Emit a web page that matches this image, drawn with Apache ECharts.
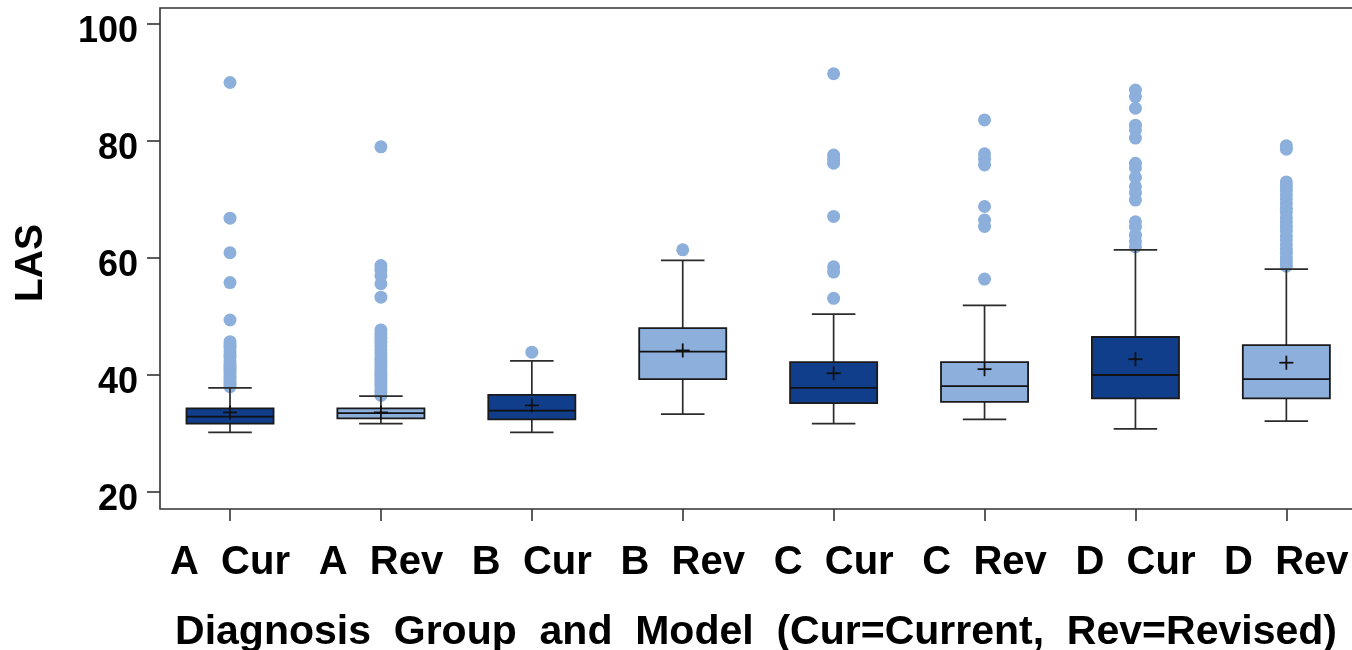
<!DOCTYPE html>
<html>
<head>
<meta charset="utf-8">
<script src="https://cdn.jsdelivr.net/npm/echarts@6/dist/echarts.min.js"></script>
<style>html,body{margin:0;padding:0;background:#fff;}#c{width:1352px;height:650px;}</style>
</head>
<body>
<div id="c"></div>
<script>
// ---- data ----
const categories = ['A  Cur', 'A  Rev', 'B  Cur', 'B  Rev', 'C  Cur', 'C  Rev', 'D  Cur', 'D  Rev'];
const categoryPositions = [0, 1, 2, 3, 4, 5, 6, 7];
const yTicks = [20, 40, 60, 80, 100];
// [lower whisker, Q1, median, Q3, upper whisker, mean]
const boxStats = [
  [30.2, 31.7, 32.9, 34.3, 37.8, 33.6],
  [31.7, 32.6, 33.5, 34.3, 36.4, 33.6],
  [30.2, 32.4, 33.9, 36.6, 42.4, 34.8],
  [33.3, 39.3, 44.0, 48.0, 59.6, 44.2],
  [31.7, 35.2, 37.8, 42.2, 50.4, 40.3],
  [32.4, 35.4, 38.1, 42.2, 51.9, 41.0],
  [30.8, 36.0, 40.0, 46.5, 61.4, 42.7],
  [32.1, 36.0, 39.3, 45.1, 58.1, 42.1]
];
const outliersACur = [90.0, 66.8, 60.9, 55.8, 49.4, 45.7, 45.1, 44.6, 44.0, 43.4, 43.0, 42.4, 41.9, 41.5, 41.0, 40.6, 40.1, 39.7, 39.3, 38.8, 38.4, 38.0];
const outliersARev = [79.0, 58.7, 58.0, 57.0, 55.6, 53.3, 47.7, 47.0, 46.3, 45.6, 45.0, 44.3, 43.8, 43.1, 42.6, 42.0, 41.4, 40.9, 40.3, 39.8, 39.2, 38.7, 38.1, 37.5, 37.0, 36.5];
const outliersBCur = [43.9];
const outliersBRev = [61.4];
const outliersCCur = [91.5, 77.6, 76.9, 76.2, 67.1, 58.5, 57.6, 53.1];
const outliersCRev = [83.6, 77.8, 76.9, 75.9, 68.8, 66.5, 65.4, 56.4];
const outliersDCur = [88.7, 87.6, 85.6, 82.7, 81.9, 80.5, 76.2, 75.4, 73.8, 72.2, 71.1, 69.9, 66.2, 65.3, 63.9, 62.8, 61.9];
const outliersDRev = [79.2, 78.6, 73.0, 72.3, 71.6, 70.8, 70.1, 69.3, 68.5, 67.8, 66.9, 66.2, 65.4, 64.6, 63.8, 63.1, 62.3, 61.5, 60.8, 60.0, 59.3, 58.6];
const outlierGroups = [outliersACur, outliersARev, outliersBCur, outliersBRev, outliersCCur, outliersCRev, outliersDCur, outliersDRev];

// ---- build series data ----
const boxData = boxStats.map((s, i) => [categoryPositions[i]].concat(s));
const outlierData = [];
outlierGroups.forEach((g, i) => g.forEach(v => outlierData.push([categoryPositions[i], v])));

const darkBlue = '#113e8b';
const lightBlue = '#8cafdc';
const FONT = '"Liberation Sans", Arial, sans-serif';

function renderBox(params, api) {
  const i = api.value(0);
  const lo = api.coord([i, api.value(1)]);
  const q1 = api.coord([i, api.value(2)]);
  const med = api.coord([i, api.value(3)]);
  const q3 = api.coord([i, api.value(4)]);
  const hi = api.coord([i, api.value(5)]);
  const mean = api.coord([i, api.value(6)]);
  const unit = api.size([1, 0])[0];
  const bw = unit * 0.577;
  const cap = bw / 2;
  const x = lo[0];
  const fill = (params.dataIndex % 2 === 0) ? darkBlue : lightBlue;
  const lineStyle = { stroke: '#2b2b2b', lineWidth: 1.7 };
  const c = 7;
  return {
    type: 'group',
    children: [
      { type: 'line', shape: { x1: x, y1: q3[1], x2: x, y2: hi[1] }, style: lineStyle },
      { type: 'line', shape: { x1: x, y1: q1[1], x2: x, y2: lo[1] }, style: lineStyle },
      { type: 'line', shape: { x1: x - cap / 2, y1: hi[1], x2: x + cap / 2, y2: hi[1] }, style: lineStyle },
      { type: 'line', shape: { x1: x - cap / 2, y1: lo[1], x2: x + cap / 2, y2: lo[1] }, style: lineStyle },
      { type: 'rect', shape: { x: x - bw / 2, y: q3[1], width: bw, height: q1[1] - q3[1] },
        style: { fill: fill, stroke: '#1a1a1a', lineWidth: 1.8 } },
      { type: 'line', shape: { x1: x - bw / 2, y1: med[1], x2: x + bw / 2, y2: med[1] }, style: { stroke: '#111', lineWidth: 1.8 } },
      { type: 'line', shape: { x1: x - c, y1: mean[1], x2: x + c, y2: mean[1] }, style: { stroke: '#111', lineWidth: 1.8 } },
      { type: 'line', shape: { x1: x, y1: mean[1] - c, x2: x, y2: mean[1] + c }, style: { stroke: '#111', lineWidth: 1.8 } }
    ]
  };
}

const chart = echarts.init(document.getElementById('c'), null, { renderer: 'canvas' });
chart.setOption({
  animation: false,
  backgroundColor: '#fff',
  grid: { left: 160, right: 0, top: 24, bottom: 158, containLabel: false, outerBoundsMode: 'none' },
  graphic: [{
    type: 'rect', z: 100, silent: true,
    shape: { x: 160, y: 8, width: 1300, height: 501 },
    style: { fill: 'none', stroke: '#333', lineWidth: 1.6 }
  }],
  xAxis: {
    type: 'value',
    min: -0.4639,
    max: 7.435,
    offset: 17,
    axisLine: { show: false, onZero: false },
    axisTick: { show: true, customValues: categoryPositions, length: 12, lineStyle: { color: '#333', width: 1.6 } },
    axisLabel: {
      customValues: categoryPositions,
      formatter: v => categories[Math.round(v)] || '',
      fontFamily: FONT, fontWeight: 'bold', fontSize: 40, color: '#000', margin: 34,
      showMinLabel: true, showMaxLabel: true
    },
    name: 'Diagnosis  Group  and  Model  (Cur=Current,  Rev=Revised)',
    nameLocation: 'middle',
    nameGap: 103,
    nameTextStyle: { fontFamily: FONT, fontWeight: 'bold', fontSize: 41, color: '#000' },
    splitLine: { show: false }
  },
  yAxis: {
    type: 'value',
    min: 20, max: 100, interval: 20,
    axisLine: { show: false, onZero: false },
    axisTick: { show: true, length: 13, lineStyle: { color: '#333', width: 1.6 } },
    axisLabel: {
      customValues: yTicks,
      formatter: v => '{t|' + v + '}',
      rich: { t: { fontFamily: FONT, fontWeight: 'bold', fontSize: 36, color: '#000', padding: [16, 0, 0, 0] } },
      fontFamily: FONT, fontWeight: 'bold', fontSize: 36, color: '#000', margin: 22
    },
    splitLine: { show: false },
    name: 'LAS',
    nameLocation: 'middle',
    nameGap: 109,
    nameTextStyle: { fontFamily: FONT, fontWeight: 'bold', fontSize: 39, color: '#000', padding: [0, 10, 0, 0] }
  },
  series: [
    {
      type: 'scatter',
      data: outlierData,
      symbol: 'circle',
      symbolSize: 13,
      itemStyle: { color: lightBlue, opacity: 1 },
      z: 2
    },
    {
      type: 'custom',
      data: boxData,
      renderItem: renderBox,
      encode: { x: 0, y: [1, 2, 3, 4, 5, 6] },
      z: 3
    }
  ]
});
</script>
</body>
</html>
